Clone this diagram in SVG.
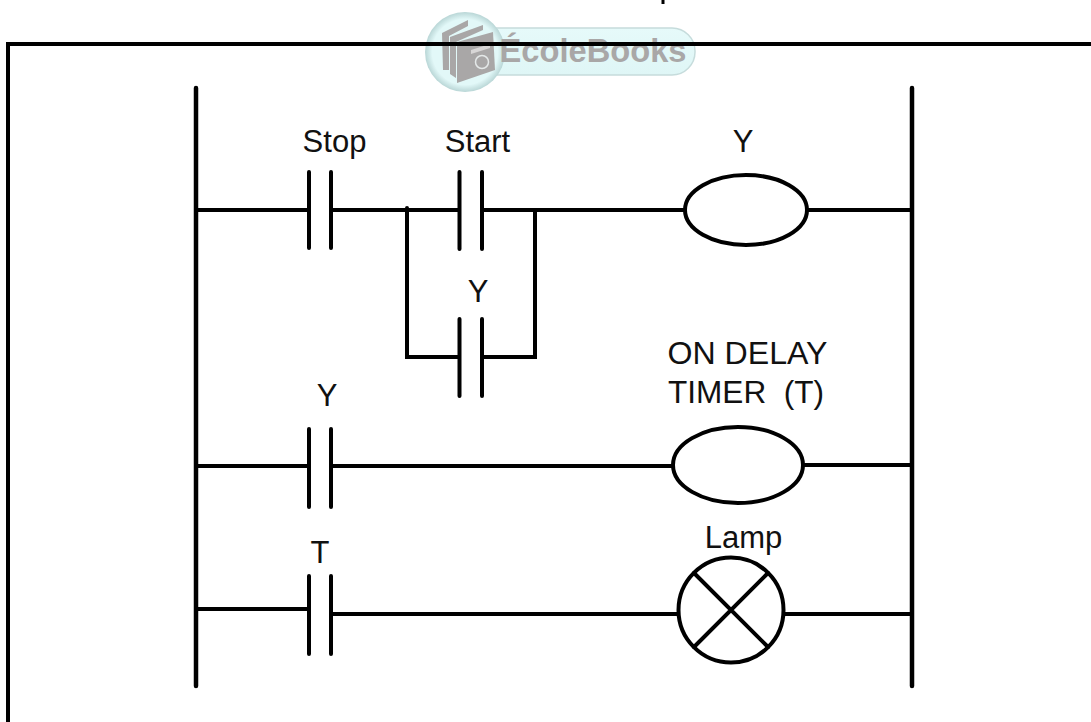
<svg xmlns="http://www.w3.org/2000/svg" width="1091" height="722" viewBox="0 0 1091 722">
<defs>
<linearGradient id="pill" x1="0" y1="0" x2="0" y2="1"><stop offset="0" stop-color="#e6fafa"/><stop offset="1" stop-color="#dff6f6"/></linearGradient>
<radialGradient id="disc" cx="0.5" cy="0.5" r="0.5"><stop offset="0.82" stop-color="#e2f8f8"/><stop offset="1" stop-color="#b9d6d6"/></radialGradient>
</defs>
<style>
text{font-family:"Liberation Sans",Arial,sans-serif;font-size:31px;fill:#111;text-anchor:middle}
.w{fill:none;stroke:#000;stroke-width:4;stroke-linecap:round}
.r{fill:none;stroke:#000;stroke-width:4.5;stroke-linecap:round}
.f{fill:none;stroke:#000;stroke-width:4}
.c{fill:#fff;stroke:#000;stroke-width:4}
.b{fill:#a9a7a7}
</style>
<rect width="1091" height="722" fill="#fff"/>
<path d="M661.500 0H664.500V4H661.500Z" fill="#000"/>
<g id="logo">
<rect x="430" y="28" width="265" height="47" rx="23" fill="url(#pill)" stroke="#c6dcdc" stroke-width="1.500"/>
<circle cx="465" cy="52" r="40" fill="url(#disc)"/>
<path class="b" d="M442 33L468 20V26L449 36V70L443 70Z"/>
<path class="b" d="M450 37L483 25V30L456 42V78L450 74Z"/>
<path class="b" d="M457 42L493 32L495 70L457 83Z"/>
<path d="M471 50L490 44V48L471 54Z" fill="#d8d6d6"/>
<circle cx="482" cy="62" r="6.500" fill="none" stroke="#e4e8e8" stroke-width="1.500"/>
<text x="593" y="62" style="font-size:33px;font-weight:bold;fill:#a9a7a7" textLength="187" lengthAdjust="spacingAndGlyphs">ÉcoleBooks</text>
</g>
<path id="frame" class="f" d="M8 722V44H1091"/>
<g id="connectors">
<path class="r" d="M196 88V686M912 88V686"/>
<path class="w" d="M196 210H309M331 210H459M482 210H686M806 210H912"/>
<path class="w" d="M407 208V357H459M482 357H535V210"/>
<path class="w" d="M196 466H309M331 466H673M803 465H912"/>
<path class="w" d="M196 609H309M331 614H678M785 614H912"/>
</g>
<g id="contact-stop"><path class="w" d="M309 172V248M331 172V248"/><text x="334.500" y="152">Stop</text></g>
<g id="contact-start"><path class="w" d="M459.500 172V249M482 172V249"/><text x="477.500" y="152">Start</text></g>
<g id="contact-y1"><path class="w" d="M459.500 319V396M482 319V396"/><text x="478" y="302">Y</text></g>
<g id="coil-y"><ellipse class="c" cx="746" cy="210" rx="61" ry="35"/><text x="743" y="152">Y</text></g>
<g id="contact-y2"><path class="w" d="M309 429V507M331 429V507"/><text x="327" y="406">Y</text></g>
<g id="coil-timer"><ellipse class="c" cx="738" cy="465" rx="65" ry="38"/><text x="747.500" y="364" textLength="160" lengthAdjust="spacingAndGlyphs">ON DELAY</text><text x="746" y="403" textLength="156" lengthAdjust="spacingAndGlyphs" xml:space="preserve">TIMER  (T)</text></g>
<g id="contact-t"><path class="w" d="M309 576V654M331 576V654"/><text x="320" y="563">T</text></g>
<g id="lamp"><circle class="c" cx="731" cy="610" r="52.500"/><path class="w" d="M694 573L768 647M768 573L694 647"/><text x="743.500" y="548">Lamp</text></g>
</svg>
